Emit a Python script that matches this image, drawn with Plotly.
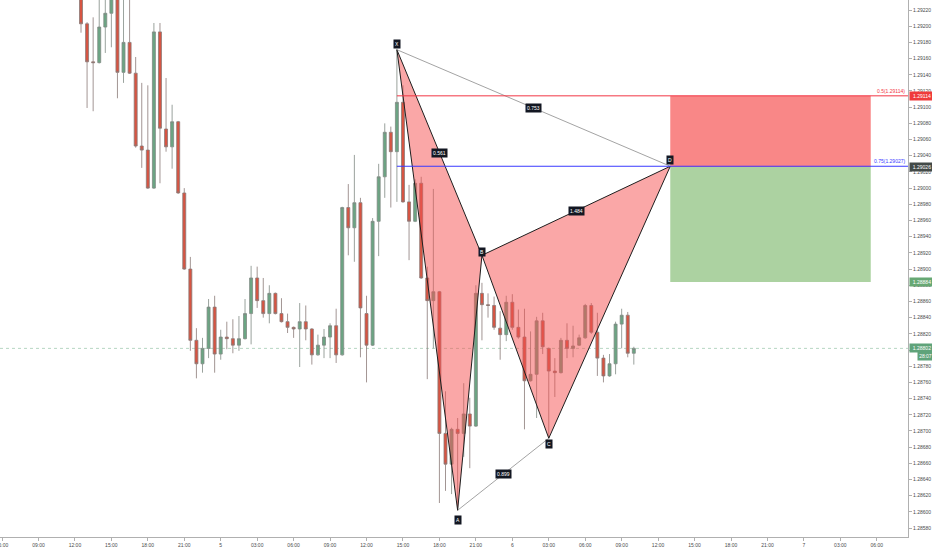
import pandas as pd
import plotly.graph_objects as go

# ---------------- data ----------------
candle_start = "2019-11-04 12:30"
opens = [1.29240, 1.29203, 1.29156, 1.29155, 1.29199, 1.29216, 1.29236, 1.29143, 1.29180, 1.29142,
         1.29052, 1.29047, 1.29000, 1.29193, 1.29073, 1.29051, 1.29082, 1.28994, 1.28900, 1.28812,
         1.28783, 1.28802, 1.28853, 1.28795, 1.28816, 1.28814, 1.28806, 1.28814, 1.28845, 1.28889,
         1.28861, 1.28845, 1.28870, 1.28845, 1.28835, 1.28828, 1.28826, 1.28835, 1.28826, 1.28794,
         1.28806, 1.28816, 1.28830, 1.28794, 1.28976, 1.28951, 1.28982, 1.28845, 1.28806, 1.28959,
         1.29014, 1.29069, 1.29045, 1.29106, 1.28983, 1.28959, 1.29006, 1.28889, 1.28861, 1.28872,
         1.28697, 1.28659, 1.28702, 1.28697, 1.28721, 1.28706, 1.28870, 1.28856, 1.28855, 1.28827,
         1.28819, 1.28859, 1.28828, 1.28816, 1.28762, 1.28770, 1.28836, 1.28802, 1.28774, 1.28772,
         1.28812, 1.28802, 1.28806, 1.28815, 1.28855, 1.28822, 1.28790, 1.28768, 1.28783, 1.28832,
         1.28843, 1.28796]
highs = [1.29250, 1.29205, 1.29211, 1.29240, 1.29238, 1.29245, 1.29250, 1.29240, 1.29240, 1.29162,
         1.29130, 1.29127, 1.29204, 1.29204, 1.29136, 1.29103, 1.29083, 1.29000, 1.28915, 1.28827,
         1.28815, 1.28863, 1.28867, 1.28825, 1.28835, 1.28838, 1.28842, 1.28863, 1.28904, 1.28903,
         1.28889, 1.28880, 1.28871, 1.28864, 1.28845, 1.28829, 1.28858, 1.28855, 1.28827, 1.28819,
         1.28826, 1.28833, 1.28851, 1.28977, 1.29005, 1.29041, 1.28988, 1.28867, 1.28963, 1.29030,
         1.29080, 1.29076, 1.29171, 1.29127, 1.29004, 1.29011, 1.29014, 1.28903, 1.28999, 1.28873,
         1.28749, 1.28704, 1.28716, 1.28759, 1.28741, 1.28880, 1.28883, 1.28870, 1.28866, 1.28848,
         1.28867, 1.28869, 1.28850, 1.28851, 1.28823, 1.28841, 1.28846, 1.28803, 1.28790, 1.28815,
         1.28833, 1.28830, 1.28819, 1.28857, 1.28858, 1.28846, 1.28794, 1.28795, 1.28835, 1.28851,
         1.28847, 1.28804]
lows = [1.29192, 1.29099, 1.29095, 1.29154, 1.29167, 1.29174, 1.29111, 1.29130, 1.29141, 1.29050,
        1.29025, 1.28999, 1.28999, 1.29006, 1.29045, 1.29024, 1.28993, 1.28899, 1.28799, 1.28765,
        1.28772, 1.28790, 1.28772, 1.28788, 1.28801, 1.28796, 1.28799, 1.28813, 1.28807, 1.28852,
        1.28840, 1.28833, 1.28844, 1.28834, 1.28821, 1.28815, 1.28779, 1.28812, 1.28782, 1.28793,
        1.28790, 1.28790, 1.28784, 1.28793, 1.28917, 1.28909, 1.28791, 1.28760, 1.28805, 1.28916,
        1.28988, 1.28976, 1.28983, 1.28982, 1.28911, 1.28958, 1.28888, 1.28764, 1.28802, 1.28611,
        1.28626, 1.28622, 1.28602, 1.28668, 1.28654, 1.28705, 1.28812, 1.28840, 1.28825, 1.28788,
        1.28811, 1.28825, 1.28814, 1.28702, 1.28761, 1.28716, 1.28795, 1.28691, 1.28742, 1.28771,
        1.28790, 1.28791, 1.28805, 1.28814, 1.28820, 1.28768, 1.28760, 1.28767, 1.28770, 1.28802,
        1.28791, 1.28782]
closes = [1.29203, 1.29156, 1.29155, 1.29199, 1.29216, 1.29236, 1.29143, 1.29180, 1.29142, 1.29052,
          1.29047, 1.29000, 1.29193, 1.29074, 1.29051, 1.29082, 1.28994, 1.28900, 1.28812, 1.28783,
          1.28802, 1.28853, 1.28795, 1.28816, 1.28814, 1.28806, 1.28814, 1.28845, 1.28889, 1.28861,
          1.28845, 1.28870, 1.28845, 1.28835, 1.28828, 1.28826, 1.28835, 1.28826, 1.28794, 1.28806,
          1.28816, 1.28830, 1.28794, 1.28976, 1.28951, 1.28982, 1.28852, 1.28806, 1.28959, 1.29014,
          1.29069, 1.29045, 1.29106, 1.28983, 1.28959, 1.29006, 1.28889, 1.28861, 1.28872, 1.28697,
          1.28659, 1.28702, 1.28697, 1.28721, 1.28706, 1.28870, 1.28856, 1.28855, 1.28828, 1.28819,
          1.28859, 1.28828, 1.28816, 1.28762, 1.28770, 1.28836, 1.28804, 1.28774, 1.28772, 1.28812,
          1.28802, 1.28805, 1.28815, 1.28855, 1.28822, 1.28790, 1.28768, 1.28783, 1.28832, 1.28843,
          1.28796, 1.28802]

pattern_labels = ["X", "A", "B", "C", "D"]
pattern_times = ["2019-11-05 14:30", "2019-11-05 19:30", "2019-11-05 21:30",
                 "2019-11-06 03:00", "2019-11-06 13:00"]
pattern_prices = [1.29171, 1.28602, 1.28917, 1.28691, 1.29027]
ratio_pairs = [("X", "B"), ("X", "D"), ("B", "D"), ("A", "C")]
ratio_texts = ["0.561", "0.753", "1.484", "0.899"]

entry_price = 1.29026
stop_price = 1.29114
target_price = 1.28884
position_start = "2019-11-06 13:00"
position_end = "2019-11-07 05:30"
last_price = 1.28802
countdown = "28:07"
level_texts = ["0.5(1.29114)", "0.75(1.29027)"]
level_prices = [1.29114, 1.29027]

x_ticks_start = "2019-11-04 06:00"
x_ticks_end = "2019-11-07 06:00"
x_range = ["2019-11-04 05:50", "2019-11-07 08:34"]
y_range = [1.28569, 1.292324]

# ---------------- figure ----------------
times = pd.date_range(candle_start, periods=len(opens), freq="30min")
pt = {lab: (pd.Timestamp(t), p) for lab, t, p in zip(pattern_labels, pattern_times, pattern_prices)}

fig = go.Figure()
fig.add_trace(go.Candlestick(
    x=times, open=opens, high=highs, low=lows, close=closes,
    increasing=dict(fillcolor="#6ba583", line=dict(color="#808a84", width=0.8)),
    decreasing=dict(fillcolor="#d75442", line=dict(color="#8a7a77", width=0.8)),
    whiskerwidth=0, showlegend=False, hoverinfo="skip"))

tri_fill = "rgba(245,80,80,0.5)"
for tri in (["X", "A", "B", "X"], ["B", "C", "D", "B"]):
    fig.add_trace(go.Scatter(
        x=[pt[k][0] for k in tri], y=[pt[k][1] for k in tri],
        mode="lines", fill="toself", fillcolor=tri_fill,
        line=dict(color="#1e1e1e", width=1), showlegend=False, hoverinfo="skip"))

for a, b in (("X", "D"), ("A", "C")):
    fig.add_trace(go.Scatter(
        x=[pt[a][0], pt[b][0]], y=[pt[a][1], pt[b][1]], mode="lines",
        line=dict(color="#8c8c8c", width=0.8), showlegend=False, hoverinfo="skip"))

shapes = []
# position tool boxes
shapes.append(dict(type="rect", xref="x", yref="y", x0=position_start, x1=position_end,
                   y0=entry_price, y1=stop_price, fillcolor="#f98787", line=dict(width=0), layer="below"))
shapes.append(dict(type="rect", xref="x", yref="y", x0=position_start, x1=position_end,
                   y0=target_price, y1=entry_price, fillcolor="#acd2a1", line=dict(width=0), layer="below"))
# fib level lines from X
level_colors = ["#f23645", "#3a3aff"]
for p, c in zip(level_prices, level_colors):
    shapes.append(dict(type="line", xref="x", yref="y", x0=pattern_times[0], x1="2019-11-08",
                       y0=p, y1=p, line=dict(color=c, width=1)))
# current price line
shapes.append(dict(type="line", xref="paper", yref="y", x0=0, x1=1, y0=last_price, y1=last_price,
                   line=dict(color="rgba(95,163,122,0.45)", width=1, dash="dot"), layer="below"))

ann = []
label_font = dict(family="Liberation Sans", size=5, color="white")
shift = {"X": 6, "A": -10, "B": 3, "C": -6, "D": 6}
for lab in pattern_labels:
    t, p = pt[lab]
    ann.append(dict(x=t, y=p, xref="x", yref="y", text=lab, showarrow=False,
                    bgcolor="#131722", font=label_font, borderpad=1, yshift=shift[lab]))
for (a, b), txt in zip(ratio_pairs, ratio_texts):
    ta, pa = pt[a]
    tb, pb = pt[b]
    ann.append(dict(x=ta + (tb - ta) / 2, y=(pa + pb) / 2, xref="x", yref="y", text=txt,
                    showarrow=False, bgcolor="#131722", font=label_font, borderpad=1))
for txt, p, c in zip(level_texts, level_prices, level_colors):
    ann.append(dict(x=1, y=p, xref="paper", yref="y", text=txt, showarrow=False,
                    xanchor="right", yanchor="bottom", xshift=-1,
                    font=dict(family="Liberation Sans", size=5, color=c)))
axis_boxes = [(stop_price, "#ef3b3b"), (entry_price, "#434a48"),
              (target_price, "#67a873"), (last_price, "#5fa37a")]
for p, c in axis_boxes:
    ann.append(dict(x=1, y=p, xref="paper", yref="y", text=f"{p:.5f}", showarrow=False,
                    xanchor="left", xshift=1, width=22, bgcolor=c, borderpad=1,
                    font=dict(family="Liberation Sans", size=5, color="white")))
ann.append(dict(x=1, y=last_price, xref="paper", yref="y", text=countdown, showarrow=False,
                xanchor="left", xshift=9, yshift=-8, width=13, bgcolor="#5fa37a", borderpad=1,
                font=dict(family="Liberation Sans", size=5, color="white")))

tick_vals = pd.date_range(x_ticks_start, x_ticks_end, freq="3h")
tick_text = [str(v.day) if v.hour == 0 else v.strftime("%H:%M") for v in tick_vals]

fig.update_layout(
    width=932, height=550, margin=dict(l=0, r=24, t=0, b=13, autoexpand=False),
    paper_bgcolor="white", plot_bgcolor="white",
    shapes=shapes, annotations=ann, showlegend=False,
    font=dict(family="Liberation Sans", size=5, color="#4a4a4a"),
    xaxis=dict(type="date", range=x_range, rangeslider=dict(visible=False),
               tickmode="array", tickvals=tick_vals, ticktext=tick_text,
               ticklabeloverflow="allow",
               showgrid=False, zeroline=False, showline=True, linecolor="#b0b0b0", linewidth=1,
               ticks="outside", ticklen=3, tickcolor="#b0b0b0",
               tickfont=dict(size=5, color="#4a4a4a"), fixedrange=True),
    yaxis=dict(side="right", range=y_range, dtick=0.0002, tick0=1.28580, tickformat=".5f",
               showgrid=False, zeroline=False, showline=True, linecolor="#b0b0b0", linewidth=1,
               ticks="outside", ticklen=3, tickcolor="#b0b0b0",
               tickfont=dict(size=5, color="#4a4a4a"), fixedrange=True),
)

fig.write_html("out.html", config={"displayModeBar": False},
               post_script="document.body.style.margin='0px';")
